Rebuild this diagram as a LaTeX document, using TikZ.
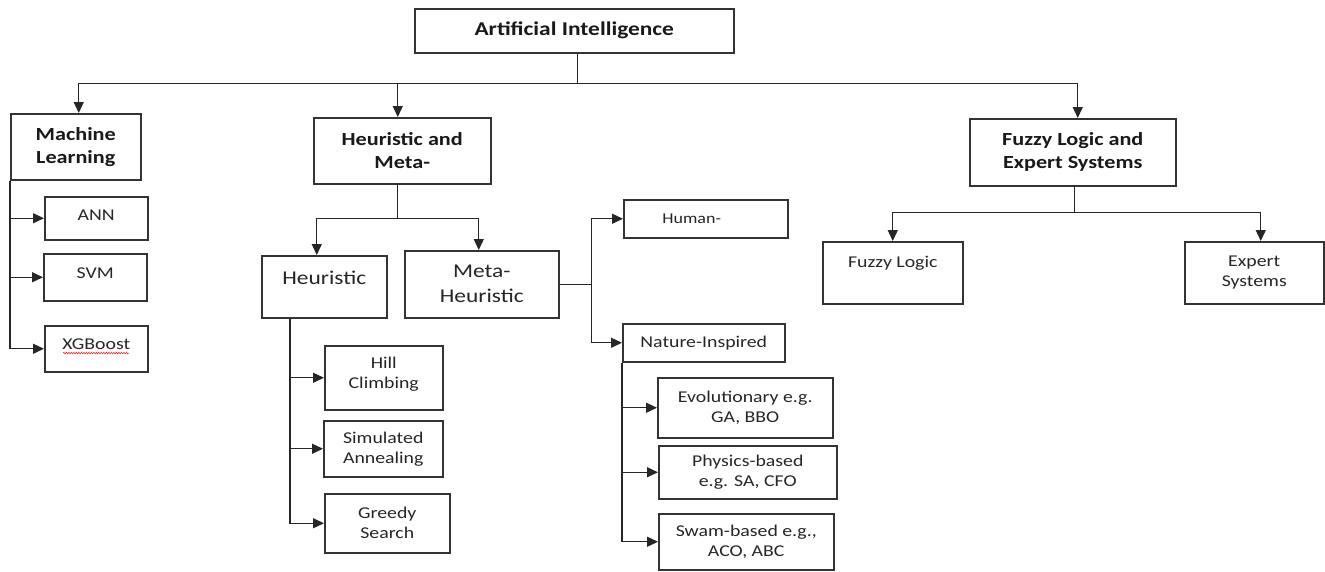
\documentclass[tikz,border=0pt]{standalone}
\usepackage{fontspec}
\setmainfont{Carlito}[FakeStretch=1.2]
\usetikzlibrary{arrows.meta,decorations.pathmorphing,calc}
\begin{document}
\begin{tikzpicture}[x=1pt,y=-1pt,
  box/.style={draw=black!80, line width=1.5pt, inner sep=0pt, anchor=north west},
  ln/.style={draw=black!85, line width=1.3pt},
  arr/.style={ln, -{Triangle[length=11pt,width=10pt]}},
  top/.style={font=\bfseries\fontsize{19.5}{23}\selectfont, text=black!90, inner sep=0pt},
  hdr/.style={font=\bfseries\fontsize{18.5}{23}\selectfont, align=center, text=black!90, inner sep=0pt},
  mid/.style={font=\fontsize{19.5}{25}\selectfont, align=center, text=black!85, inner sep=0pt},
  leaf/.style={font=\fontsize{16.5}{20}\selectfont, align=center, text=black!85, inner sep=0pt}]
\fill[white] (0,0) rectangle (1325,571);
\useasboundingbox (0,0) rectangle (1325,571);

% boxes
\node[box, minimum width=319pt, minimum height=44pt] (ai) at (414,8) {};
\node[box, minimum width=130pt, minimum height=66pt] (ml) at (10,113) {};
\node[box, minimum width=177pt, minimum height=66pt] (hm) at (313,117) {};
\node[box, minimum width=206pt, minimum height=67pt] (fle) at (969,118) {};
\node[box, minimum width=103pt, minimum height=43pt] (ann) at (44,196) {};
\node[box, minimum width=103pt, minimum height=47pt] (svm) at (43,253) {};
\node[box, minimum width=103pt, minimum height=46pt] (xgb) at (44,325) {};
\node[box, minimum width=125pt, minimum height=62pt] (heur) at (261,255) {};
\node[box, minimum width=154pt, minimum height=67pt] (meta) at (404,250) {};
\node[box, minimum width=118pt, minimum height=64pt] (hc) at (324,345) {};
\node[box, minimum width=119pt, minimum height=56pt] (sa) at (323,420) {};
\node[box, minimum width=125pt, minimum height=59pt] (gs) at (324,493) {};
\node[box, minimum width=164pt, minimum height=38pt] (hum) at (623,199) {};
\node[box, minimum width=162pt, minimum height=38pt] (ni) at (622,323) {};
\node[box, minimum width=175pt, minimum height=60pt] (evo) at (657,377) {};
\node[box, minimum width=178pt, minimum height=53pt] (phy) at (658,445) {};
\node[box, minimum width=175pt, minimum height=56pt] (swa) at (658,513) {};
\node[box, minimum width=140pt, minimum height=62pt] (fl) at (822,241) {};
\node[box, minimum width=139pt, minimum height=62pt] (es) at (1184,241) {};

% texts
\node[top] (ait) at (ai.center) {Artificial Intelligence};
\node[hdr] (mlt) at (ml.center) {Machine\\Learning};
\node[hdr] (hmt) at (hm.center) {Heuristic and\\Meta-};
\node[hdr] (flet) at (fle.center) {Fuzzy Logic and\\Expert Systems};
\node[leaf] (annt) at ($(ann.center)+(0,-3)$) {ANN};
\node[leaf] (svmt) at ($(svm.center)+(0,-4)$) {SVM};
\node[leaf] (xgbt) at ($(xgb.center)+(0,-5)$) {XGBoost};
\node[mid] (heurt) at ($(heur.center)+(0,-9)$) {Heuristic};
\node[mid] (metat) at (meta.center) {Meta-\\Heuristic};
\node[leaf] (hct) at ($(hc.center)+(0,-4)$) {Hill\\Climbing};
\node[leaf] (sat) at (sa.center) {Simulated\\Annealing};
\node[leaf] (gst) at (gs.center) {Greedy\\Search};
\node[leaf, font=\fontsize{15}{18}\selectfont] (humt) at ($(hum.center)+(-14,0)$) {Human-};
\node[leaf] (nit) at (ni.center) {Nature-Inspired};
\node[leaf] (evot) at (evo.center) {Evolutionary e.g.\\GA, BBO};
\node[leaf] (phyt) at (phy.center) {Physics-based\\e.g. SA, CFO};
\node[leaf] (swat) at (swa.center) {Swam-based e.g.,\\ACO, ABC};
\node[leaf] (flt) at ($(fl.center)+(0,-10)$) {Fuzzy Logic};
\node[leaf] (est) at (es.center) {Expert\\Systems};

% spell-check underline
\draw[red!85, line width=0.6pt, decorate, decoration={snake, amplitude=0.8pt, segment length=2.5pt}]
  ($(xgbt.base west)+(1,4)$) -- ($(xgbt.base east)+(-1,4)$);

% connectors: AI
\coordinate (ais) at ([xshift=3.5pt]ai.south);
\path (ais) ++(0,30) coordinate (bus);
\draw[ln] (ais) -- (bus);
\draw[arr] (bus) -| ([xshift=3pt]ml.north);
\draw[arr] (bus) -| ([xshift=-4.5pt]hm.north);
\draw[arr] (bus) -| ([xshift=5pt]fle.north);

% Machine Learning
\draw[arr] (ml.south west) |- (xgb.west);
\draw[arr] (ml.south west |- ann.west) -- (ann.west);
\draw[arr] (ml.south west |- svm.west) -- (svm.west);

% Heuristic and Meta-
\coordinate (hms) at ([xshift=-4.5pt]hm.south);
\path (hms) ++(0,34) coordinate (hj);
\draw[ln] (hms) -- (hj);
\draw[arr] (hj) -| ([xshift=-7.5pt]heur.north);
\draw[arr] (hj) -| ([xshift=-3pt]meta.north);

% Heuristic
\path (heur.south west) ++(29,0) coordinate (ht);
\draw[arr] (ht) |- (gs.west);
\draw[arr] (ht |- hc.west) -- (hc.west);
\draw[arr] (ht |- sa.west) -- (sa.west);

% Meta-Heuristic
\path (meta.east) ++(32,0) coordinate (mj);
\draw[ln] (meta.east) -- (mj);
\draw[arr] (mj) |- (hum.west);
\draw[arr] (mj) |- (ni.west);

% Nature-Inspired
\draw[arr] (ni.south west) |- (swa.west);
\draw[arr] (ni.south west |- evo.west) -- (evo.west);
\draw[arr] (ni.south west |- phy.west) -- (phy.west);

% Fuzzy Logic and Expert Systems
\coordinate (fles) at ([xshift=2pt]fle.south);
\path (fles) ++(0,26) coordinate (fj);
\draw[ln] (fles) -- (fj);
\draw[arr] (fj) -| (fl.north);
\draw[arr] (fj) -| ([xshift=6.5pt]es.north);
\end{tikzpicture}
\end{document}
